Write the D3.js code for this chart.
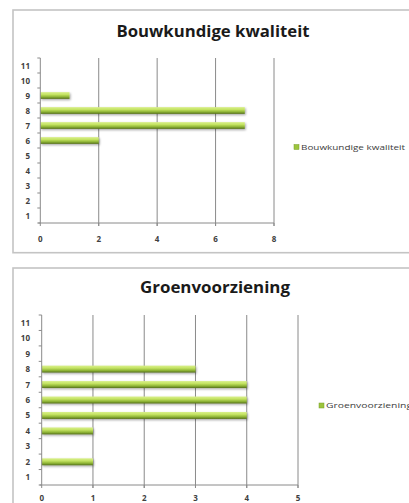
<!DOCTYPE html>
<html><head><meta charset="utf-8">
<script src="https://cdn.jsdelivr.net/npm/d3@7"></script>
<style>
html,body{margin:0;padding:0;background:#fff;}
svg{display:block;}
text{font-family:"Open Sans","DejaVu Sans",sans-serif;}
</style></head>
<body>
<script>
const categories = [1,2,3,4,5,6,7,8,9,10,11];
const bouwTitle = "Bouwkundige kwaliteit";
const bouwValues = [0,0,0,0,0,2,7,7,1,0,0];
const bouwTicks = [0,2,4,6,8];
const groenTitle = "Groenvoorziening";
const groenValues = [0,1,0,1,4,4,4,3,0,0,0];
const groenTicks = [0,1,2,3,4,5];

const W = 409, H = 503;
const svg = d3.select("body").append("svg").attr("width", W).attr("height", H);
const defs = svg.append("defs");
const grad = defs.append("linearGradient").attr("id","barGrad").attr("x1",0).attr("y1",0).attr("x2",0).attr("y2",1);
grad.append("stop").attr("offset","0%").attr("stop-color","#d9f08c");
grad.append("stop").attr("offset","35%").attr("stop-color","#c4e363");
grad.append("stop").attr("offset","70%").attr("stop-color","#8fb536");
grad.append("stop").attr("offset","100%").attr("stop-color","#556f1b");
const sh = defs.append("filter").attr("id","shadow").attr("x","-10%").attr("y","-50%").attr("width","130%").attr("height","250%");
sh.append("feDropShadow").attr("dx",1).attr("dy",1.2).attr("stdDeviation",0.8).attr("flood-color","#000").attr("flood-opacity",0.35);

function chart(cfg){
  const g = svg.append("g");
  // frame
  g.append("rect").attr("x",cfg.frame[0]).attr("y",cfg.frame[1]).attr("width",cfg.frame[2]).attr("height",cfg.frame[3])
    .attr("fill","#fff").attr("stroke","#c4c4c4").attr("stroke-width",1.6);
  // title
  g.append("text").attr("x",cfg.titleX).attr("y",cfg.titleY).attr("text-anchor","middle")
    .attr("font-size",16).attr("font-weight","bold").attr("fill","#1a1a1a")
    .attr("textLength",cfg.titleW).attr("lengthAdjust","spacingAndGlyphs").text(cfg.title);

  const x = d3.scaleLinear().domain([0, cfg.ticks[cfg.ticks.length-1]]).range([cfg.x0, cfg.x1]);
  const y = d3.scaleBand().domain(categories).range([cfg.y1, cfg.y0]).paddingInner(0.55).paddingOuter(0.275);
  const yb = d3.scaleBand().domain(categories).range([cfg.y1, cfg.y0]);

  // gridlines
  g.append("g").selectAll("line").data(cfg.ticks.slice(1)).join("line")
    .attr("x1",d=>x(d)).attr("x2",d=>x(d)).attr("y1",cfg.y0).attr("y2",cfg.y1+3)
    .attr("stroke","#8a8a8a").attr("stroke-width",1);

  // bars
  const data = categories.map((c,i)=>({c, v:cfg.values[i]})).filter(d=>d.v>0);
  g.append("g").selectAll("rect").data(data).join("rect")
    .attr("x",x(0)).attr("y",d=>y(d.c)).attr("width",d=>x(d.v)-x(0)).attr("height",y.bandwidth())
    .attr("fill","url(#barGrad)").attr("filter","url(#shadow)");

  // y axis
  const yAxis = g.append("g").attr("transform",`translate(${cfg.x0},0)`);
  yAxis.append("line").attr("x1",0).attr("x2",0).attr("y1",cfg.y0).attr("y2",cfg.y1).attr("stroke","#8a8a8a");
  const bounds = categories.map(c=>yb(c)).concat([cfg.y1]);
  yAxis.selectAll("line.tk").data(bounds).join("line").attr("class","tk")
    .attr("x1",-3).attr("x2",0).attr("y1",d=>d).attr("y2",d=>d).attr("stroke","#8a8a8a");
  yAxis.selectAll("text").data(categories).join("text")
    .attr("x",cfg.labelX - cfg.x0).attr("y",d=>yb(d)+yb.bandwidth()/2+3)
    .attr("text-anchor","end").attr("font-size",8).attr("font-weight","bold").attr("fill","#404040").text(d=>d);

  // x axis
  const xAxis = g.append("g").attr("transform",`translate(0,${cfg.y1})`);
  xAxis.append("line").attr("x1",cfg.x0-2).attr("x2",cfg.x1).attr("stroke","#8a8a8a");
  xAxis.selectAll("line.tk").data(cfg.ticks).join("line").attr("class","tk")
    .attr("x1",d=>x(d)).attr("x2",d=>x(d)).attr("y1",0).attr("y2",3).attr("stroke","#8a8a8a");
  xAxis.selectAll("text").data(cfg.ticks).join("text")
    .attr("x",d=>x(d)).attr("y",cfg.xlabY - cfg.y1)
    .attr("text-anchor","middle").attr("font-size",8).attr("font-weight","bold").attr("fill","#404040").text(d=>d);

  // legend
  g.append("rect").attr("x",cfg.legX).attr("y",cfg.legY-2.5).attr("width",5).attr("height",5)
    .attr("fill","#9cc53d").attr("stroke","#7a9e2a").attr("stroke-width",0.5);
  g.append("text").attr("x",cfg.legX+7).attr("y",cfg.legY+2.5).attr("font-size",7).attr("fill","#404040")
    .attr("textLength",cfg.legW).attr("lengthAdjust","spacingAndGlyphs").text(cfg.title);
}

chart({title:bouwTitle, values:bouwValues, ticks:bouwTicks,
  frame:[13,10,420,242.7], titleX:213, titleY:37, titleW:193,
  x0:40.3, x1:274, y0:58, y1:223, labelX:30, xlabY:242,
  legX:294, legY:147, legW:104});
chart({title:groenTitle, values:groenValues, ticks:groenTicks,
  frame:[13,268,420,260], titleX:215, titleY:293, titleW:150,
  x0:41.7, x1:298, y0:315, y1:485, labelX:30, xlabY:501,
  legX:319, legY:405.5, legW:86});
</script>
</body></html>
